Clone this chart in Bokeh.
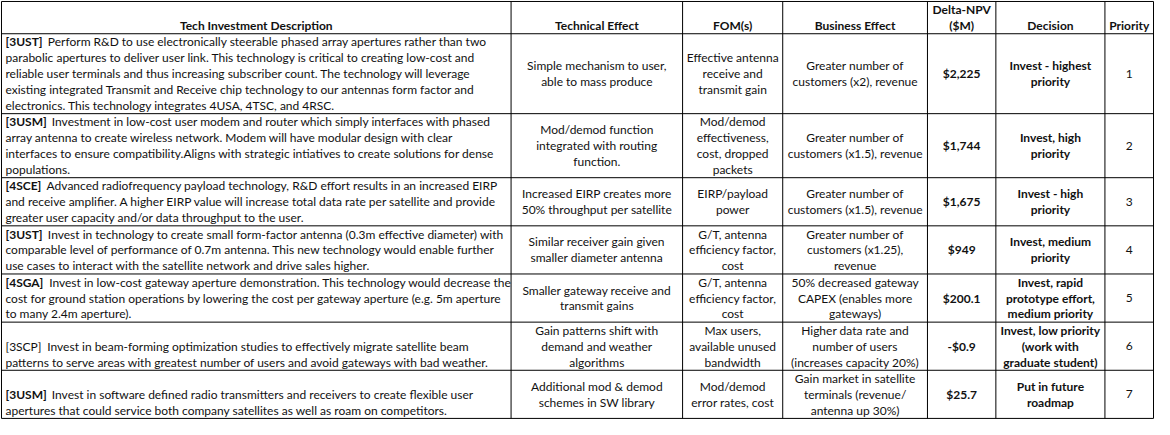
from bokeh.plotting import figure
from bokeh.models import Range1d
from bokeh.core.properties import value
from bokeh.embed import file_html
from bokeh.resources import INLINE

# ---------------- data ----------------
headers = ["Tech Investment Description", "Technical Effect", "FOM(s)",
           "Business Effect", "Delta-NPV\n($M)", "Decision", "Priority"]

tags = ["[3UST]", "[3USM]", "[4SCE]", "[3UST]", "[4SGA]", "[3SCP]", "[3USM]"]
tag_bold = [True, True, True, True, True, False, True]

descriptions = [
    "Perform R&D to use electronically steerable phased array apertures rather than two\n"
    "parabolic apertures to deliver user link. This technology is critical to creating low-cost and\n"
    "reliable user terminals and thus increasing subscriber count. The technology will leverage\n"
    "existing integrated Transmit and Receive chip technology to our antennas form factor and\n"
    "electronics. This technology integrates 4USA, 4TSC, and 4RSC.",
    "Investment in low-cost user modem and router which simply interfaces with phased\n"
    "array antenna to create wireless network.  Modem will have modular design with clear\n"
    "interfaces to ensure compatibility.Aligns with strategic intiatives to create solutions for dense\n"
    "populations.",
    "Advanced radiofrequency payload technology, R&D effort results in an increased EIRP\n"
    "and receive amplifier. A higher EIRP value will increase total data rate per satellite and provide\n"
    "greater user capacity and/or data throughput to the user.",
    "Invest in technology to create small form-factor antenna (0.3m effective diameter) with\n"
    "comparable level of performance of 0.7m antenna. This new technology would enable further\n"
    "use cases to interact with the satellite network and drive sales higher.",
    "Invest in low-cost gateway aperture demonstration. This technology would decrease the\n"
    "cost for ground station operations by lowering the cost per gateway aperture (e.g. 5m aperture\n"
    "to many 2.4m aperture).",
    "Invest in beam-forming optimization studies to effectively migrate satellite beam\n"
    "patterns to serve areas with greatest number of users and avoid gateways with bad weather.",
    "Invest in software defined radio transmitters and receivers to create flexible user\n"
    "apertures that could service both company satellites as well as roam on competitors.",
]

technical_effects = [
    "Simple mechanism to user,\nable to mass produce",
    "Mod/demod function\nintegrated with routing\nfunction.",
    "Increased EIRP creates more\n50% throughput per satellite",
    "Similar receiver gain given\nsmaller diameter antenna",
    "Smaller gateway receive and\ntransmit gains",
    "Gain patterns shift with\ndemand and weather\nalgorithms",
    "Additional mod & demod\nschemes in SW library",
]

foms = [
    "Effective antenna\nreceive and\ntransmit gain",
    "Mod/demod\neffectiveness,\ncost, dropped\npackets",
    "EIRP/payload\npower",
    "G/T, antenna\nefficiency factor,\ncost",
    "G/T, antenna\nefficiency factor,\ncost",
    "Max users,\navailable unused\nbandwidth",
    "Mod/demod\nerror rates, cost",
]

business_effects = [
    "Greater number of\ncustomers (x2), revenue",
    "Greater number of\ncustomers (x1.5), revenue",
    "Greater number of\ncustomers (x1.5), revenue",
    "Greater number of\ncustomers (x1.25),\nrevenue",
    "50% decreased gateway\nCAPEX (enables more\ngateways)",
    "Higher data rate and\nnumber of users\n(increases capacity 20%)",
    "Gain market in satellite\nterminals (revenue/\nantenna up 30%)",
]

delta_npv = [2225, 1744, 1675, 949, 200.1, -0.9, 25.7]

decisions = [
    "Invest - highest\npriority",
    "Invest, high\npriority",
    "Invest - high\npriority",
    "Invest, medium\npriority",
    "Invest, rapid\nprototype effort,\nmedium priority",
    "Invest, low priority\n(work with\ngraduate student)",
    "Put in future\nroadmap",
]

priorities = [1, 2, 3, 4, 5, 6, 7]


def npv_label(v):
    sign = "-" if v < 0 else ""
    a = abs(v)
    body = f"{a:,.0f}" if a == int(a) else f"{a:,}"
    return f"{sign}${body}"


npv_labels = [npv_label(v) for v in delta_npv]

# ---------------- layout ----------------
FONT = value("Lato")
FS_PX = 12.0
FS = f"{FS_PX}px"
COL = [5, 519, 692, 793, 939, 1008, 1118, 1167]
TOP = 4.5
LH = 16.15
PAD = 0.5
TXT = "#111111"

# approximate Lato bold advance widths (em) for tag measurement
BW = {"[": 0.33, "]": 0.33, "U": 0.72, "S": 0.52, "T": 0.6, "M": 0.91,
      "C": 0.66, "E": 0.56, "G": 0.72, "A": 0.70, "P": 0.61}


def tag_width(t, px):
    return (sum(BW.get(c, 0.58) for c in t) * 1.06 + 0.3) * px


p = figure(width=1154, height=419, output_backend="svg", toolbar_location=None,
           x_range=Range1d(4, 1168), y_range=Range1d(429.5, 3.5),
           min_border=0, background_fill_color="white", border_fill_color="white")
p.axis.visible = False
p.grid.visible = False
p.outline_line_color = None

rows = []
header_lines = [h.split("\n") for h in headers]
rows.append(max(len(h) for h in header_lines))
cells = []
for i in range(len(tags)):
    c = [descriptions[i].split("\n"), technical_effects[i].split("\n"),
         foms[i].split("\n"), business_effects[i].split("\n"),
         [npv_labels[i]], decisions[i].split("\n"), [str(priorities[i])]]
    cells.append(c)
    rows.append(max(len(x) for x in c))

edges = [TOP]
for n in rows:
    edges.append(edges[-1] + n * LH + PAD)

# grid lines
p.segment(x0=[COL[0]] * len(edges), x1=[COL[-1]] * len(edges), y0=edges, y1=edges,
          line_color="black", line_width=1)
p.segment(x0=COL, x1=COL, y0=[edges[0]] * len(COL), y1=[edges[-1]] * len(COL),
          line_color="black", line_width=1)

norm = dict(x=[], y=[], t=[], a=[])
bold = dict(x=[], y=[], t=[], a=[])


def add(store, x, y, t, a):
    store["x"].append(x); store["y"].append(y); store["t"].append(t); store["a"].append(a)


def bottom_ys(n, bot):
    return [bot - PAD / 2 - (n - k - 0.5) * LH for k in range(n)]


def center_ys(n, top, bot):
    m = (top + bot) / 2
    return [m + (k - (n - 1) / 2) * LH for k in range(n)]


# header (bottom aligned, centered, bold)
for j, lines in enumerate(header_lines):
    xc = (COL[j] + COL[j + 1]) / 2
    for y, t in zip(bottom_ys(len(lines), edges[1]), lines):
        add(bold, xc, y, t, "center")

for i, c in enumerate(cells):
    top, bot = edges[i + 1], edges[i + 2]
    # description: left aligned, bottom aligned, bold tag
    dl = c[0]
    ys = bottom_ys(len(dl), bot)
    x0 = COL[0] + 4
    add(bold if tag_bold[i] else norm, x0, ys[0], tags[i], "left")
    add(norm, x0 + tag_width(tags[i], FS_PX), ys[0], dl[0], "left")
    for y, t in zip(ys[1:], dl[1:]):
        add(norm, x0, y, t, "left")
    for j in range(1, 7):
        xc = (COL[j] + COL[j + 1]) / 2
        store = bold if j in (4, 5) else norm
        for y, t in zip(center_ys(len(c[j]), top, bot), c[j]):
            add(store, xc, y, t, "center")

p.text(x="x", y="y", text="t", text_align="a", source=norm, text_baseline="middle",
       text_font=FONT, text_font_size=FS, text_color=TXT)
p.text(x="x", y="y", text="t", text_align="a", source=bold, text_baseline="middle",
       text_font=FONT, text_font_size=FS, text_font_style="bold", text_color=TXT)

open("out.html", "w").write(file_html(p, INLINE))
